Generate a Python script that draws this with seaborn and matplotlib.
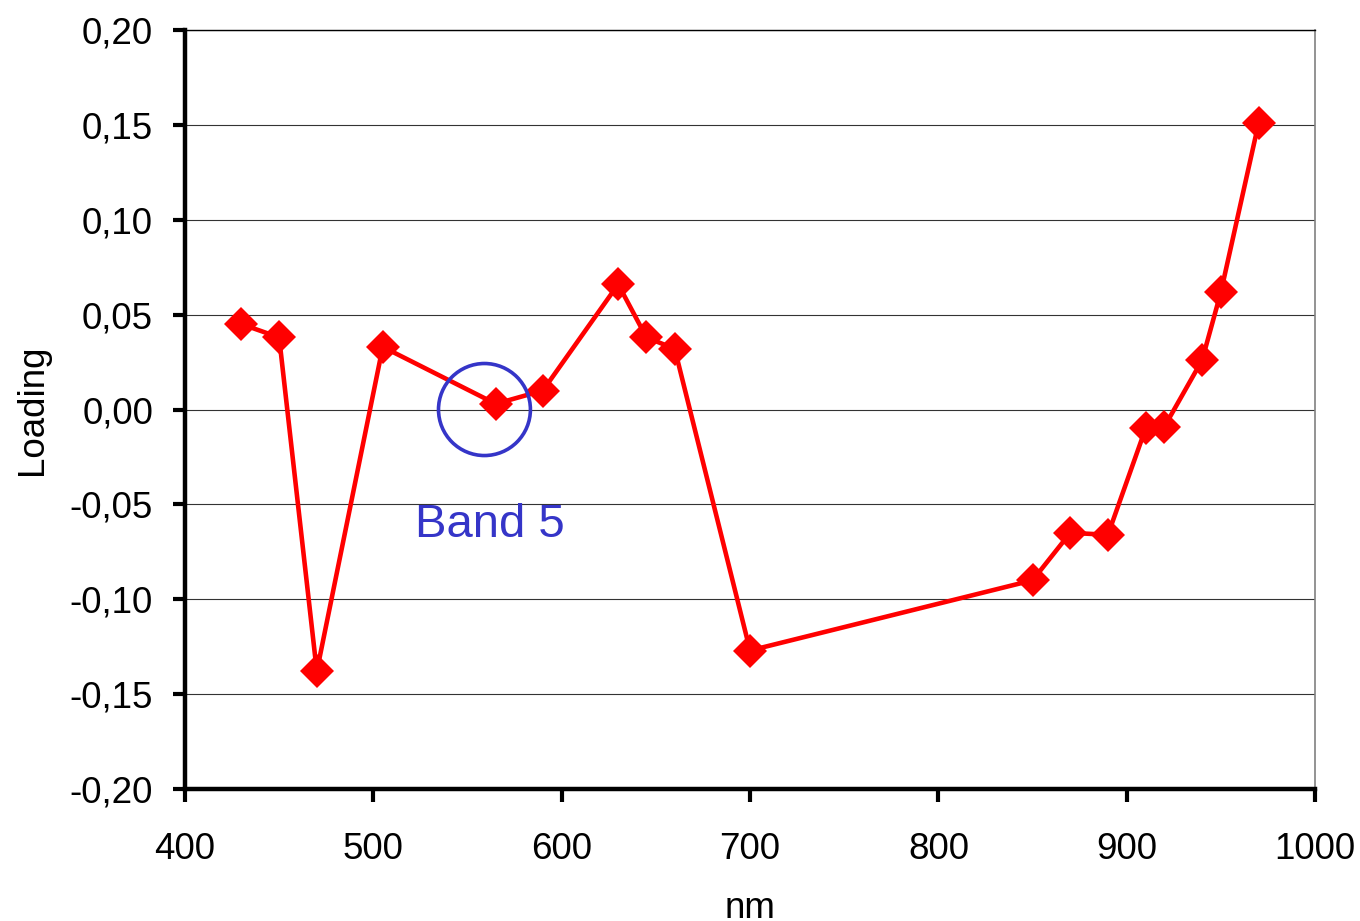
"""Loading spectrum plot (red diamonds) with Band 5 highlight."""
import matplotlib
matplotlib.use("Agg")
import matplotlib.pyplot as plt
from matplotlib.patches import Ellipse
import seaborn as sns
import pandas as pd

wavelength = [430, 450, 470, 505, 565, 590, 630, 645, 660, 700,
              850, 870, 890, 910, 920, 940, 950, 970]
loading = [0.045, 0.038, -0.138, 0.033, 0.003, 0.010, 0.066, 0.038, 0.032, -0.127,
           -0.090, -0.065, -0.066, -0.010, -0.009, 0.026, 0.062, 0.151]

band_label = "Band 5"
band_center = (559, 0.0)
band_text_pos = (562, -0.061)

sns.set_theme(style="white")
plt.rcParams["font.family"] = ["Liberation Sans", "DejaVu Sans"]

df = pd.DataFrame({"nm": wavelength, "Loading": loading})

fig = plt.figure(figsize=(13.6, 9.21), dpi=100)
ax = fig.add_axes([0.136, 0.1433, 0.831, 0.8241])

sns.lineplot(data=df, x="nm", y="Loading", color="#ff0000", linewidth=3.3,
             marker="D", markersize=17, markeredgecolor="#ff0000",
             markeredgewidth=0, ax=ax, zorder=5)

ax.set_xlim(400, 1000)
ax.set_ylim(-0.20, 0.20)
ax.set_xticks(range(400, 1001, 100))
ax.set_yticks([-0.20, -0.15, -0.10, -0.05, 0.0, 0.05, 0.10, 0.15, 0.20])
ax.yaxis.set_major_formatter(
    plt.FuncFormatter(lambda v, _: f"{v:.2f}".replace(".", ",").replace("-0,00", "0,00")))

ax.grid(axis="y", color="#333333", linewidth=0.8)
ax.grid(axis="x", visible=False)
ax.set_axisbelow(True)

for s in ["left", "bottom"]:
    ax.spines[s].set_color("black")
    ax.spines[s].set_linewidth(3.2)
ax.spines["right"].set_color("#808080")
ax.spines["right"].set_linewidth(1.2)
ax.spines["top"].set_color("black")
ax.spines["top"].set_linewidth(1.0)

ax.tick_params(axis="both", direction="out", length=9, width=3, color="black",
               labelsize=26.5, labelcolor="black", left=True, bottom=True)
ax.tick_params(axis="x", pad=22)
ax.tick_params(axis="y", pad=14)

ax.set_xlabel("nm", fontsize=26.5, color="black", labelpad=17)
ax.set_ylabel("Loading", fontsize=26.5, color="black", labelpad=14)

# Band 5 circle
ax.add_patch(Ellipse(band_center, width=48.8, height=0.0485, fill=False,
                     edgecolor="#3535c8", linewidth=2.6, zorder=6))
ax.text(band_text_pos[0], band_text_pos[1], band_label, color="#3535c8",
        fontsize=34, ha="center", va="center")

fig.savefig("out.png", dpi=100)
